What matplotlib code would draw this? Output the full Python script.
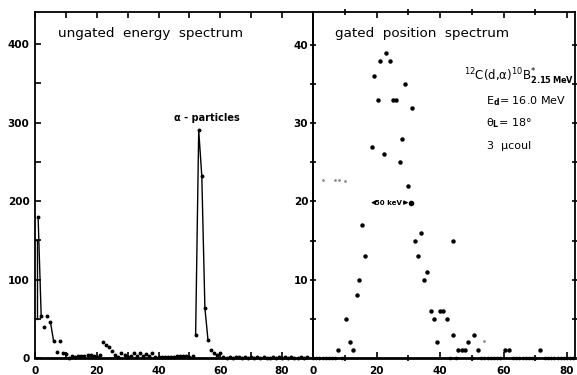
import matplotlib
matplotlib.use("Agg")
import matplotlib.pyplot as plt
import numpy as np

plt.rcParams['mathtext.fontset'] = 'dejavusans'

# ungated energy spectrum (left panel): channel -> counts
e_chan = np.arange(1, 89)
e_counts = np.array([180, 54, 40, 53, 46, 22, 8, 22, 6, 5,
                     0, 2, 1, 2, 3, 2, 4, 4, 3, 1,
                     4, 20, 17, 14, 9, 4, 1, 6, 4, 1,
                     3, 6, 3, 7, 3, 5, 3, 6, 1, 1,
                     1, 1, 1, 1, 1, 2, 3, 2, 2, 1,
                     3, 29, 290, 232, 64, 23, 10, 7, 4, 6,
                     1, 0, 1, 0, 1, 1, 0, 1, 0, 1,
                     0, 1, 0, 1, 0, 0, 1, 0, 1, 0,
                     1, 0, 1, 0, 0, 1, 0, 1])
edge_x = [0, 0.5, 0.5]
edge_y = [150, 150, 50]

# gated position spectrum (right panel)
p_chan = [8, 10.4, 11.7, 12.7, 13.8, 14.6, 15.5, 16.5, 18.5, 19.2, 20.4, 21.2,
          22.3, 23.1, 24.1, 25.2, 26.2, 27.3, 28.1, 29.0, 30.0, 31.1, 32.1,
          33.2, 34.0, 35.0, 36.0, 37.1, 38.1, 39.2, 40.0, 41.0, 42.1, 44.0,
          44.0, 45.8, 46.8, 47.9, 48.7, 50.7, 51.8, 60.5, 61.6, 71.5]
p_counts = [1, 5, 2, 1, 8, 10, 17, 13, 27, 36, 33, 38,
            26, 39, 38, 33, 33, 25, 28, 35, 22, 32, 15,
            13, 16, 10, 11, 6, 5, 2, 6, 6, 5, 15,
            3, 1, 1, 1, 2, 3, 1, 1, 1, 1]
p_zero_chan = [c for c in range(0, 83) if all(abs(c - p) > 0.6 for p in p_chan)]
stray_x = [3.1, 6.8, 8.2, 10.0, 53.9]
stray_y = [22.7, 22.7, 22.7, 22.6, 2.2]

W, H = 577, 375
fig = plt.figure(figsize=(W / 100, H / 100), dpi=100)
y0 = 358
axL = fig.add_axes([35 / W, (H - y0) / H, 278 / W, (y0 - 12) / H])
axR = fig.add_axes([313 / W, (H - y0) / H, 262 / W, (y0 - 12) / H])
axL.patch.set_alpha(0)
axR.patch.set_alpha(0)

# left panel
axL.plot(e_chan, e_counts, 'o', ms=1.8, color='black', clip_on=False)
axL.plot(e_chan[0:2], e_counts[0:2], '-', lw=1.0, color='black')
axL.plot(e_chan[4:6], e_counts[4:6], '-', lw=1.0, color='black')
axL.plot(e_chan[51:56], e_counts[51:56], '-', lw=1.0, color='black')
axL.plot(edge_x, edge_y, '-', lw=1.0, color='black')
axL.set_xlim(0, 90)
axL.set_ylim(0, 441)
axL.set_xticks([0, 20, 40, 60, 80])
axL.set_xticks(np.arange(0, 91, 10), minor=True)
axL.set_yticks([0, 100, 200, 300, 400])
axL.set_yticks(np.arange(0, 441, 50), minor=True)
axL.tick_params(which='both', direction='in', top=True, right=False,
                length=4, width=1.2, labelsize=7.5, pad=4)
axL.tick_params(axis='x', pad=6)
for lab in axL.get_xticklabels() + axL.get_yticklabels():
    lab.set_fontweight('bold')
axL.text(7.6, 413, 'ungated  energy  spectrum', fontsize=9.7, va='center')
axL.text(55.6, 306, 'α - particles', fontsize=7, fontweight='bold', ha='center', va='center')

# right panel
axR.plot(p_chan, p_counts, 'o', ms=2.2, color='black')
axR.plot(p_zero_chan, [0] * len(p_zero_chan), 'o', ms=1.6, color='black', clip_on=False)
axR.plot(stray_x, stray_y, 'o', ms=1.0, color='0.55')
axR.set_xlim(0, 82.5)
axR.set_ylim(0, 44.2)
axR.set_xticks([0, 20, 40, 60, 80])
axR.set_xticks(np.arange(0, 81, 10), minor=True)
axR.set_yticks([10, 20, 30, 40])
axR.set_yticks(np.arange(5, 44, 5), minor=True)
axR.tick_params(which='both', direction='inout', top=True, right=True,
                length=5, width=1.2, labelsize=7.5, pad=1)
axR.tick_params(axis='x', direction='in', length=4, pad=6)
for lab in axR.get_xticklabels() + axR.get_yticklabels():
    lab.set_fontweight('bold')
axR.text(6.9, 41.5, 'gated  position  spectrum', fontsize=9.7, va='center')
axR.text(82.3, 35.9, r'$^{12}$C(d,α)$^{10}$B$^{*}_{\mathbf{2.15\,MeV}}$', fontsize=8.5,
         ha='right', va='center')
axR.text(54.5, 32.8, r'E$_{\mathbf{d}}$= 16.0 MeV', fontsize=8, va='center')
axR.text(54.5, 30.0, r'θ$_{\mathbf{L}}$= 18°', fontsize=8, va='center')
axR.text(54.8, 27.1, '3  μcoul', fontsize=8, va='center')

# 50 keV resolution marker
axR.annotate('', xy=(17.4, 19.85), xytext=(20.0, 19.85),
             arrowprops=dict(arrowstyle='-|>', lw=0.8, color='black', mutation_scale=6))
axR.annotate('', xy=(30.9, 19.85), xytext=(27.6, 19.85),
             arrowprops=dict(arrowstyle='-|>', lw=0.8, color='black', mutation_scale=6))
axR.plot([30.9], [19.85], 'o', ms=3, color='black')
axR.text(23.8, 19.85, '50 keV', fontsize=5, fontweight='bold', ha='center', va='center')

for ax in (axL, axR):
    for s in ax.spines.values():
        s.set_linewidth(1.3)
axL.spines['bottom'].set_linewidth(2)
axR.spines['bottom'].set_linewidth(2)

fig.savefig('out.png', dpi=100)
